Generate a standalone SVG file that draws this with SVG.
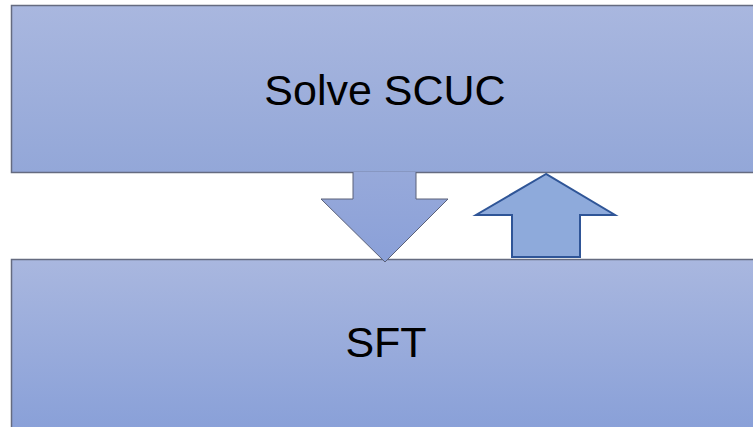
<svg xmlns="http://www.w3.org/2000/svg" width="753" height="427" viewBox="0 0 753 427">
<defs>
<linearGradient id="gTop" x1="0" y1="0" x2="0" y2="1">
<stop offset="0" stop-color="#a9b7df"/>
<stop offset="1" stop-color="#93a7d8"/>
</linearGradient>
<linearGradient id="gBot" x1="0" y1="0" x2="0" y2="1">
<stop offset="0" stop-color="#a9b7df"/>
<stop offset="1" stop-color="#89a0d8"/>
</linearGradient>
<linearGradient id="gArr" x1="0" y1="0" x2="0" y2="1">
<stop offset="0" stop-color="#97a9da"/>
<stop offset="1" stop-color="#8aa0d8"/>
</linearGradient>
<style>
.box{stroke:#656b80;stroke-width:1.5}
.lbl{font-family:"Liberation Sans",Arial,sans-serif;font-size:43px;fill:#000;text-anchor:middle}
</style>
</defs>
<rect width="753" height="427" fill="#fff"/>
<g id="scuc">
<rect class="box" x="11.5" y="5.5" width="750" height="167" fill="url(#gTop)"/>
<text class="lbl" x="385" y="105">Solve SCUC</text>
</g>
<g id="sft">
<rect class="box" x="11.5" y="259.5" width="750" height="170" fill="url(#gBot)"/>
<text class="lbl" x="386" y="357">SFT</text>
</g>
<g id="connectors">
<path d="M353,172 L353,199 L321,199 L385,262 L448,199 L416,199 L416,172" fill="url(#gArr)" stroke="#5a6078" stroke-width="1"/>
<path d="M546,174 L476,215 L512,215 L512,257 L580,257 L580,215 L615,215 Z" fill="#8eaadb" stroke="#2f5597" stroke-width="2" stroke-linejoin="miter"/>
</g>
</svg>
